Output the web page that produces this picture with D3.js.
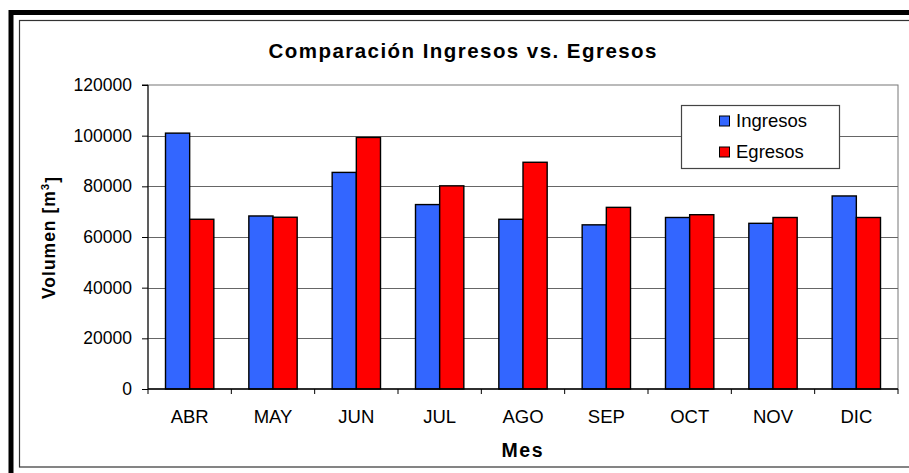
<!DOCTYPE html>
<html>
<head>
<meta charset="utf-8">
<title>Comparación Ingresos vs. Egresos</title>
<style>
  body { margin: 0; background: #fff; }
  svg { display: block; font-family: Arial, "Liberation Sans", sans-serif; }
</style>
</head>
<body>
<script src="https://d3js.org/d3.v7.min.js"></script>
<script>
// datos
let meses = ["ABR", "MAY", "JUN", "JUL", "AGO", "SEP", "OCT", "NOV", "DIC"];
let series = ["Ingresos", "Egresos"];
let ingresos = [101000, 68300, 85500, 72800, 67000, 64800, 67700, 65400, 76200];
let egresos = [67000, 67800, 99300, 80200, 89500, 71700, 68800, 67700, 67700];
let yTicks = [0, 20000, 40000, 60000, 80000, 100000, 120000];

let colors = ["#3366FF", "#FF0000"];

let width = 909;
let height = 473;
let plot = { left: 148, top: 85, right: 898, bottom: 389 };

let data = meses.map((m, i) => ({ mes: m, Ingresos: ingresos[i], Egresos: egresos[i] }));

let svg = d3.select("body").append("svg")
    .attr("width", width)
    .attr("height", height);

// marco exterior
svg.append("rect")
    .attr("x", 11).attr("y", 12.5)
    .attr("width", 920).attr("height", 480)
    .attr("fill", "white")
    .attr("stroke", "black")
    .attr("stroke-width", 5);

svg.append("rect")
    .attr("x", 19.5).attr("y", 20.5)
    .attr("width", 910).attr("height", 446.5)
    .attr("fill", "white")
    .attr("stroke", "#333")
    .attr("stroke-width", 1.2);

let x0 = d3.scaleBand()
    .domain(meses)
    .range([plot.left, plot.right])
    .paddingInner(0.42)
    .paddingOuter(0.21);

let x1 = d3.scaleBand()
    .domain(series)
    .range([0, x0.bandwidth()]);

let y = d3.scaleLinear()
    .domain([0, 120000])
    .range([plot.bottom, plot.top]);

// area del grafico
svg.append("rect")
    .attr("x", plot.left).attr("y", plot.top)
    .attr("width", plot.right - plot.left)
    .attr("height", plot.bottom - plot.top)
    .attr("fill", "white")
    .attr("stroke", "#777")
    .attr("stroke-width", 1);

// lineas de division
svg.selectAll(".grid")
    .data(yTicks.filter(d => d > 0 && d < 120000))
    .join("line")
    .attr("class", "grid")
    .attr("x1", plot.left).attr("x2", plot.right)
    .attr("y1", d => Math.round(y(d)) + 0.5)
    .attr("y2", d => Math.round(y(d)) + 0.5)
    .attr("stroke", "#666")
    .attr("stroke-width", 1);

// eje y
let step = x0.step();
let yAxis = d3.axisLeft(y)
    .tickValues(yTicks)
    .tickFormat(d3.format("d"))
    .tickSize(6)
    .tickPadding(10);

let gy = svg.append("g")
    .attr("transform", `translate(${plot.left},0)`)
    .call(yAxis);
gy.select(".domain").attr("stroke", "black").attr("d", `M-6,${y(120000)}H0V${y(0)}`);
gy.selectAll(".tick line").attr("stroke", "black");
gy.selectAll(".tick text")
    .attr("font-size", "17.5px")
    .attr("font-family", "Arial, 'Liberation Sans', sans-serif")
    .attr("fill", "black");

// barras
let groups = svg.selectAll(".grupo")
    .data(data)
    .join("g")
    .attr("class", "grupo")
    .attr("transform", d => `translate(${x0(d.mes)},0)`);

groups.selectAll("rect")
    .data(d => series.map(s => ({ serie: s, valor: d[s] })))
    .join("rect")
    .attr("x", d => x1(d.serie))
    .attr("y", d => y(d.valor))
    .attr("width", x1.bandwidth())
    .attr("height", d => y(0) - y(d.valor))
    .attr("fill", (d, i) => colors[i])
    .attr("stroke", "black")
    .attr("stroke-width", 1.4);

// eje x
svg.append("line")
    .attr("x1", plot.left).attr("x2", plot.right)
    .attr("y1", y(0)).attr("y2", y(0))
    .attr("stroke", "black")
    .attr("stroke-width", 1.3);

let bordes = d3.range(meses.length + 1).map(i => plot.left + i * step);
svg.selectAll(".xtick")
    .data(bordes)
    .join("line")
    .attr("class", "xtick")
    .attr("x1", d => d).attr("x2", d => d)
    .attr("y1", y(0)).attr("y2", y(0) + 5)
    .attr("stroke", "black");

svg.selectAll(".xlabel")
    .data(meses)
    .join("text")
    .attr("class", "xlabel")
    .attr("x", d => plot.left + (meses.indexOf(d) + 0.5) * step)
    .attr("y", 423)
    .attr("text-anchor", "middle")
    .attr("font-size", "18.5px")
    .text(d => d);

// titulos
svg.append("text")
    .attr("x", 462.5)
    .attr("y", 57.5)
    .attr("text-anchor", "middle")
    .attr("font-size", "20.5px")
    .attr("font-weight", "bold")
    .attr("textLength", 388)
    .attr("lengthAdjust", "spacing")
    .text("Comparación Ingresos vs. Egresos");

svg.append("text")
    .attr("x", 522)
    .attr("y", 457)
    .attr("text-anchor", "middle")
    .attr("font-size", "19.5px")
    .attr("font-weight", "bold")
    .attr("textLength", 41)
    .attr("lengthAdjust", "spacing")
    .text("Mes");

let ytitle = svg.append("text")
    .attr("transform", "translate(55,237.5) rotate(-90)")
    .attr("text-anchor", "middle")
    .attr("font-size", "17.5px")
    .attr("font-weight", "bold")
    .attr("letter-spacing", "1px");
ytitle.append("tspan").text("Volumen [m");
ytitle.append("tspan").attr("dy", "-0.5em").attr("font-size", "11.5px").text("3");
ytitle.append("tspan").attr("dy", "0.5em").text("]");

// leyenda
let legend = svg.append("g")
    .attr("transform", "translate(681,105)");

legend.append("rect")
    .attr("x", 0.5).attr("y", 0.5)
    .attr("width", 158).attr("height", 63)
    .attr("fill", "white")
    .attr("stroke", "#444")
    .attr("stroke-width", 1.2);

series.forEach(function (s, i) {
    let item = legend.append("g")
        .attr("transform", `translate(0, ${i * 31})`);
    item.append("rect")
        .attr("x", 38.5).attr("y", 11)
        .attr("width", 10).attr("height", 10)
        .attr("fill", colors[i])
        .attr("stroke", "black")
        .attr("stroke-width", 1);
    item.append("text")
        .attr("x", 55)
        .attr("y", 21.5)
        .attr("font-size", "18.5px")
        .text(s);
});
</script>
</body>
</html>
